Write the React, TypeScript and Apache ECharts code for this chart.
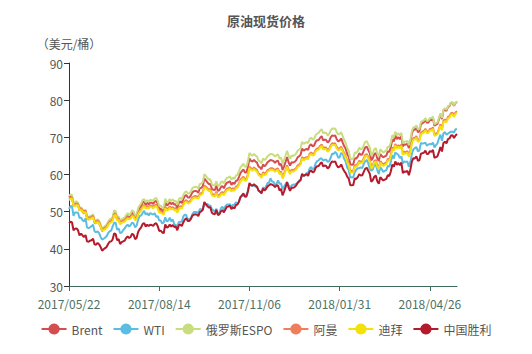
import React, { useEffect, useRef } from "react";
import * as echarts from "echarts";

const title = "原油现货价格";
const yName = "（美元/桶）";
const seriesNames = ["Brent", "WTI", "俄罗斯ESPO", "阿曼", "迪拜", "中国胜利"];
const colors = ["#d44e4f", "#5cbde2", "#c9dd80", "#ef7e5c", "#f3e10a", "#b51a2c"];
const yTicks = [30, 40, 50, 60, 70, 80, 90];
const holidays = ["2017/12/25", "2018/01/01", "2018/03/30"];

function pad(n: number) { return n < 10 ? "0" + n : "" + n; }
function tradingDates(start: string, end: string): string[] {
  const out: string[] = [];
  const d = new Date(start + "T00:00:00Z");
  const e = new Date(end + "T00:00:00Z");
  while (d <= e) {
    const wd = d.getUTCDay();
    const s = d.getUTCFullYear() + "/" + pad(d.getUTCMonth() + 1) + "/" + pad(d.getUTCDate());
    if (wd !== 0 && wd !== 6 && holidays.indexOf(s) < 0) out.push(s);
    d.setUTCDate(d.getUTCDate() + 1);
  }
  return out;
}
const dates = tradingDates("2017-05-22", "2018-05-22");

const brent = [
  53.9, 54.2, 54.0, 51.5, 52.2, 52.3, 51.8, 50.3,
  50.6, 50.0, 49.5, 50.1, 48.1, 47.9, 48.2, 48.3, 48.7, 47.0, 46.9, 47.4, 46.9, 46.0, 44.8, 45.2, 45.5, 45.8, 46.7, 47.3, 47.4, 47.9,
  49.7, 49.6, 47.8, 48.1, 46.7, 47.3, 47.5, 47.7, 48.4, 48.9, 48.4, 48.8, 49.7, 49.3, 48.1, 48.6, 50.2, 51.0, 51.5, 52.5, 52.7,
  51.8, 52.4, 52.0, 52.4, 52.4, 52.1, 52.7, 52.9, 52.1, 50.7, 50.8, 50.3, 50.0, 52.7, 51.7, 51.9, 52.6, 52.0, 52.4, 51.9, 52.0, 50.9, 52.4,
  52.8, 52.3, 53.4, 54.2, 54.5, 53.8, 53.8, 54.3, 55.2, 55.5, 55.6, 55.5, 55.1, 56.3, 56.4, 56.9, 59.0, 58.4, 57.9, 57.4, 57.5,
  56.1, 55.9, 55.8, 57.0, 55.6, 55.8, 56.6, 56.9, 56.3, 57.2, 57.8, 57.9, 58.2, 57.2, 57.8, 57.4, 58.3, 58.4, 59.3, 60.4, 60.9, 61.4,
  60.5, 60.6, 62.1, 64.3, 63.7, 63.5, 63.9, 63.5, 63.2, 62.2, 61.9, 61.4, 62.7, 62.2, 62.6, 63.3, 63.6, 63.9, 63.8, 63.6, 63.1, 63.6,
  63.7, 62.5, 62.9, 61.2, 62.2, 63.4, 64.7, 63.3, 62.4, 63.3, 63.2, 63.4, 63.8, 64.6, 64.9, 65.3, 67.0, 66.4, 66.7, 66.9,
  66.6, 67.8, 68.1, 67.6, 67.8, 68.8, 69.2, 69.3, 69.9, 70.3, 69.2, 69.4, 69.3, 68.6, 69.0, 70.0, 70.5, 70.4, 70.5, 69.5, 68.9, 69.1,
  69.7, 68.6, 67.6, 66.9, 65.5, 64.8, 62.8, 62.6, 62.7, 64.4, 64.3, 64.8, 65.7, 65.3, 65.4, 66.4, 67.3, 67.5, 66.6, 65.8,
  63.8, 64.4, 65.5, 65.8, 64.3, 63.6, 65.5, 65.0, 64.6, 64.9, 65.1, 66.2, 66.1, 67.4, 69.5, 68.9, 70.5, 69.5, 70.1, 69.5, 70.3,
  67.6, 68.1, 68.0, 68.3, 67.1, 68.7, 71.0, 72.1, 72.0, 72.6, 71.4, 71.6, 73.5, 73.8, 74.1, 74.7, 73.9, 74.0, 74.7, 74.6, 75.2,
  73.1, 73.4, 73.6, 74.9, 76.2, 74.9, 77.2, 77.5, 77.1, 78.2, 78.4, 79.3, 79.3, 78.5, 79.2, 79.6,
];

const wti = [
  50.7, 51.5, 51.4, 48.9, 49.8, 49.8, 49.7, 48.3,
  48.4, 47.7, 47.4, 48.2, 45.7, 45.6, 45.8, 46.1, 46.5, 44.7, 44.5, 44.7, 44.2, 43.2, 42.5, 42.7, 43.0, 43.4, 44.2, 44.7, 44.9, 46.0,
  47.0, 47.0, 45.1, 45.5, 44.2, 44.4, 45.0, 45.5, 46.1, 46.5, 46.0, 46.4, 47.1, 46.8, 45.8, 46.3, 47.9, 48.8, 49.0, 49.7, 50.2,
  49.2, 49.6, 49.0, 49.6, 49.4, 49.2, 49.6, 48.6, 48.8, 47.6, 47.6, 46.8, 47.1, 48.5, 47.4, 47.6, 48.4, 47.4, 47.9, 46.6, 46.4, 46.0, 47.2,
  47.3, 47.3, 48.7, 49.2, 49.1, 47.5, 48.1, 48.2, 49.3, 49.9, 49.9, 49.9, 49.5, 50.7, 50.6, 50.7, 52.2, 51.9, 52.1, 51.6, 51.7,
  50.6, 50.4, 50.0, 50.8, 49.3, 49.6, 50.9, 51.3, 50.6, 51.5, 51.9, 51.9, 52.0, 51.3, 51.8, 51.9, 52.5, 52.2, 52.6, 53.9, 54.2, 54.4,
  54.3, 54.5, 55.6, 57.4, 57.2, 56.8, 57.2, 56.7, 56.8, 55.7, 55.3, 55.1, 56.6, 56.1, 56.8, 57.7, 57.8, 59.0, 58.1, 58.0, 57.3, 57.4,
  58.4, 57.5, 57.6, 56.0, 56.7, 57.4, 58.0, 57.1, 56.6, 57.0, 57.3, 57.2, 57.5, 57.6, 58.4, 58.5, 60.0, 59.6, 59.8, 60.4,
  60.4, 61.6, 62.0, 61.4, 61.7, 63.0, 63.6, 63.8, 64.3, 64.3, 63.7, 64.0, 64.0, 63.4, 63.6, 64.5, 65.6, 65.5, 66.1, 65.6, 64.5, 64.7,
  65.8, 65.5, 64.2, 63.4, 61.8, 61.2, 59.2, 59.3, 59.2, 60.6, 61.3, 61.7, 61.7, 61.9, 61.7, 62.8, 63.6, 63.9, 63.0, 61.6,
  61.0, 61.3, 62.6, 62.6, 61.2, 60.1, 62.0, 61.4, 60.7, 61.0, 61.2, 62.3, 62.1, 63.4, 65.2, 64.3, 65.9, 65.6, 65.3, 64.4, 64.9,
  63.0, 63.5, 63.4, 63.5, 62.1, 63.4, 65.5, 66.8, 67.1, 67.4, 66.2, 66.5, 68.5, 68.3, 68.4, 68.6, 67.7, 68.1, 68.2, 68.1, 68.6,
  67.3, 67.9, 68.4, 69.7, 70.7, 69.1, 71.1, 71.4, 70.7, 71.0, 71.3, 71.5, 71.5, 71.3, 72.2, 72.2,
];

const espo = [
  54.3, 54.6, 54.5, 52.1, 52.6, 52.8, 52.3, 50.9,
  51.2, 50.6, 50.1, 50.6, 48.7, 48.5, 48.8, 48.9, 49.3, 47.6, 47.5, 48.0, 47.5, 46.6, 45.4, 45.8, 46.1, 46.5, 47.3, 47.9, 48.1, 48.5,
  50.3, 50.2, 48.5, 48.7, 47.4, 47.9, 48.2, 48.4, 49.1, 49.6, 49.1, 49.5, 50.4, 50.0, 48.8, 49.3, 50.9, 51.7, 52.2, 53.2, 53.4,
  52.5, 53.1, 52.7, 53.2, 53.1, 52.9, 53.5, 53.7, 52.9, 51.5, 51.6, 51.1, 50.9, 53.5, 52.5, 52.7, 53.4, 52.9, 53.3, 52.8, 52.9, 51.8, 53.3,
  53.8, 53.3, 54.4, 55.2, 55.5, 54.9, 54.9, 55.4, 56.3, 56.6, 56.7, 56.6, 56.2, 57.4, 57.6, 58.0, 60.1, 59.6, 59.1, 58.6, 58.7,
  57.3, 57.1, 57.0, 58.2, 56.9, 57.1, 57.9, 58.2, 57.6, 58.5, 59.1, 59.2, 59.5, 58.6, 59.2, 58.8, 59.7, 59.9, 60.8, 61.9, 62.4, 62.9,
  62.1, 62.2, 63.6, 65.8, 65.3, 65.1, 65.5, 65.1, 64.8, 63.8, 63.5, 63.0, 64.3, 63.9, 64.2, 64.9, 65.2, 65.5, 65.5, 65.3, 64.8, 65.2,
  65.4, 64.2, 64.6, 62.9, 63.9, 65.1, 66.4, 65.1, 64.2, 65.1, 65.0, 65.2, 65.6, 66.4, 66.7, 67.1, 68.8, 68.2, 68.5, 68.7,
  68.4, 69.6, 69.9, 69.4, 69.6, 70.6, 71.0, 71.2, 71.8, 72.2, 71.1, 71.3, 71.2, 70.5, 70.9, 71.9, 72.4, 72.3, 72.4, 71.4, 70.8, 70.9,
  71.4, 70.3, 69.3, 68.5, 67.1, 66.4, 64.3, 64.1, 64.2, 65.9, 65.8, 66.3, 67.2, 66.8, 66.9, 67.9, 68.8, 69.0, 68.1, 67.3,
  65.1, 65.7, 66.8, 67.1, 65.6, 64.9, 66.8, 66.3, 65.9, 66.2, 66.4, 67.5, 67.4, 68.6, 70.6, 70.0, 71.5, 70.6, 71.1, 70.5, 71.2,
  68.4, 68.9, 68.8, 69.1, 67.9, 69.4, 71.7, 72.7, 72.7, 73.2, 72.1, 72.3, 74.1, 74.4, 74.6, 75.2, 74.4, 74.5, 75.2, 75.1, 75.6,
  73.5, 73.8, 74.0, 75.2, 76.5, 75.2, 77.5, 77.8, 77.4, 78.4, 78.6, 79.4, 79.4, 78.6, 79.3, 79.7,
];

const oman = [
  53.5, 53.8, 53.8, 51.9, 51.9, 52.2, 52.1, 50.8,
  50.9, 50.4, 50.0, 50.3, 48.6, 48.3, 48.5, 48.6, 48.9, 47.4, 47.3, 47.6, 47.2, 46.2, 45.3, 45.4, 45.7, 46.0, 46.7, 47.3, 47.5, 47.9,
  49.3, 49.4, 48.0, 48.2, 47.0, 47.4, 47.6, 47.7, 48.2, 48.6, 48.2, 48.5, 49.2, 48.9, 48.0, 48.4, 49.7, 50.3, 50.7, 51.5, 51.8,
  51.2, 51.5, 51.3, 51.7, 51.6, 51.3, 51.7, 51.9, 51.2, 50.1, 50.2, 49.8, 49.6, 51.3, 50.7, 50.9, 51.4, 51.0, 51.2, 50.8, 50.9, 50.1, 51.1,
  51.5, 51.2, 52.1, 52.8, 53.1, 52.6, 52.7, 53.1, 53.8, 54.1, 54.2, 54.1, 53.9, 54.8, 55.0, 55.3, 57.0, 56.7, 56.3, 55.9, 56.1,
  54.8, 54.6, 54.5, 55.4, 54.3, 54.4, 55.0, 55.3, 54.9, 55.6, 56.2, 56.3, 56.5, 55.8, 56.3, 56.0, 56.7, 56.9, 57.6, 58.6, 59.0, 59.4,
  58.7, 58.8, 60.1, 62.1, 61.7, 61.4, 61.9, 61.5, 61.2, 60.3, 60.0, 59.5, 60.6, 60.2, 60.5, 61.2, 61.4, 61.7, 61.7, 61.5, 61.1, 61.5,
  61.6, 60.5, 60.8, 59.3, 60.2, 61.3, 62.5, 61.3, 60.5, 61.3, 61.2, 61.4, 61.7, 62.4, 62.7, 63.1, 64.7, 64.2, 64.5, 64.7,
  64.5, 65.6, 65.9, 65.5, 65.7, 66.6, 67.0, 67.1, 67.7, 68.1, 67.1, 67.3, 67.2, 66.5, 66.9, 67.8, 68.4, 68.3, 68.4, 67.4, 66.9, 67.0,
  67.5, 66.6, 65.7, 64.9, 63.7, 63.0, 61.1, 60.9, 61.0, 62.5, 62.5, 62.9, 63.7, 63.4, 63.5, 64.4, 65.3, 65.5, 64.7, 63.9,
  62.0, 62.5, 63.6, 63.9, 62.5, 61.8, 63.6, 63.1, 62.7, 63.0, 63.2, 64.2, 64.1, 65.3, 67.3, 66.8, 68.2, 67.3, 67.9, 67.4, 68.1,
  65.7, 66.1, 66.0, 66.3, 65.2, 66.6, 68.8, 69.8, 69.8, 70.3, 69.2, 69.4, 71.2, 71.5, 71.7, 72.3, 71.5, 71.6, 72.3, 72.2, 72.7,
  70.8, 71.0, 71.2, 72.3, 73.5, 72.3, 74.5, 74.8, 74.4, 75.5, 75.7, 76.5, 76.6, 75.9, 76.7, 77.0,
];

const dubai = [
  53.1, 53.4, 53.5, 51.6, 51.5, 51.8, 51.7, 50.4,
  50.5, 50.1, 49.6, 49.9, 48.3, 47.9, 48.1, 48.2, 48.5, 47.1, 46.9, 47.2, 46.8, 45.9, 45.0, 45.0, 45.3, 45.6, 46.3, 46.9, 47.1, 47.5,
  48.9, 49.1, 47.6, 47.8, 46.7, 47.0, 47.2, 47.3, 47.8, 48.2, 47.9, 48.1, 48.8, 48.6, 47.7, 48.0, 49.3, 49.9, 50.3, 51.1, 51.5,
  50.8, 51.1, 50.9, 51.3, 51.2, 50.9, 51.3, 51.5, 50.8, 49.7, 49.8, 49.4, 49.2, 50.9, 50.3, 50.5, 51.0, 50.6, 50.8, 50.4, 50.5, 49.7, 50.7,
  51.1, 50.8, 51.7, 52.4, 52.7, 52.2, 52.3, 52.7, 53.4, 53.7, 53.8, 53.7, 53.5, 54.4, 54.6, 54.9, 56.6, 56.3, 55.9, 55.5, 55.7,
  54.4, 54.2, 54.1, 55.0, 53.9, 54.0, 54.6, 54.9, 54.5, 55.2, 55.8, 55.9, 56.1, 55.4, 55.9, 55.6, 56.3, 56.5, 57.2, 58.2, 58.6, 59.0,
  58.3, 58.4, 59.7, 61.7, 61.3, 61.0, 61.5, 61.1, 60.8, 59.9, 59.6, 59.1, 60.2, 59.8, 60.1, 60.8, 61.0, 61.3, 61.3, 61.1, 60.7, 61.1,
  61.2, 60.1, 60.4, 58.9, 59.8, 60.9, 62.1, 60.9, 60.1, 60.9, 60.8, 61.0, 61.3, 62.0, 62.3, 62.7, 64.3, 63.8, 64.1, 64.3,
  64.1, 65.2, 65.5, 65.1, 65.3, 66.2, 66.6, 66.7, 67.3, 67.7, 66.7, 66.9, 66.8, 66.1, 66.5, 67.4, 68.0, 67.9, 68.0, 67.0, 66.5, 66.6,
  67.1, 66.2, 65.3, 64.5, 63.3, 62.6, 60.7, 60.5, 60.6, 62.1, 62.1, 62.5, 63.3, 63.0, 63.1, 64.0, 64.9, 65.1, 64.3, 63.5,
  61.6, 62.1, 63.2, 63.5, 62.1, 61.4, 63.2, 62.7, 62.3, 62.6, 62.8, 63.8, 63.7, 64.9, 66.9, 66.4, 67.8, 66.9, 67.5, 67.0, 67.7,
  65.3, 65.7, 65.6, 65.9, 64.8, 66.2, 68.4, 69.4, 69.4, 69.9, 68.8, 69.0, 70.8, 71.1, 71.3, 71.9, 71.1, 71.2, 71.9, 71.8, 72.3,
  70.4, 70.6, 70.8, 71.9, 73.1, 71.9, 74.1, 74.4, 74.0, 75.1, 75.3, 76.1, 76.2, 75.5, 76.3, 76.6,
];

const shengli = [
  46.9, 47.3, 47.1, 45.0, 45.4, 45.5, 45.0, 43.6,
  44.1, 43.6, 43.2, 43.7, 42.0, 41.9, 42.2, 42.3, 42.7, 41.2, 41.1, 41.6, 41.2, 40.5, 39.5, 39.9, 40.2, 40.5, 41.3, 41.9, 42.0, 42.5,
  44.1, 44.0, 42.3, 42.6, 41.3, 41.8, 42.0, 42.2, 42.9, 43.3, 42.9, 43.2, 44.1, 43.7, 42.6, 43.0, 44.6, 45.3, 45.8, 46.7, 46.9,
  46.0, 46.5, 46.1, 46.5, 46.4, 46.2, 46.7, 46.9, 46.1, 44.8, 44.9, 44.4, 44.2, 46.6, 45.7, 45.9, 46.5, 46.0, 46.4, 45.9, 46.0, 45.0, 46.3,
  46.6, 46.1, 47.1, 47.9, 48.2, 47.5, 47.5, 48.0, 48.9, 49.2, 49.3, 49.2, 48.8, 49.9, 50.1, 50.5, 52.6, 52.0, 51.5, 51.1, 51.2,
  49.7, 49.4, 49.3, 50.5, 49.1, 49.3, 50.1, 50.4, 49.8, 50.6, 51.3, 51.4, 51.6, 50.7, 51.2, 50.9, 51.8, 51.9, 52.7, 53.9, 54.4, 54.9,
  54.0, 54.1, 55.5, 57.7, 57.1, 57.0, 57.4, 57.0, 56.7, 55.7, 55.4, 54.9, 56.2, 55.7, 56.1, 56.8, 57.1, 57.4, 57.3, 57.1, 56.6, 57.1,
  57.0, 55.7, 56.1, 54.4, 55.4, 56.6, 57.9, 56.5, 55.6, 56.5, 56.4, 56.6, 57.0, 57.8, 58.1, 58.5, 60.2, 59.6, 59.9, 60.1,
  59.6, 60.8, 61.1, 60.6, 60.8, 61.8, 62.2, 62.3, 62.9, 63.3, 62.2, 62.4, 62.3, 61.6, 62.0, 63.0, 63.5, 63.4, 63.5, 62.5, 61.9, 62.1,
  62.7, 61.7, 60.9, 60.4, 59.4, 58.9, 57.2, 57.1, 57.2, 58.9, 58.8, 59.3, 60.1, 59.7, 59.8, 60.7, 61.6, 61.8, 61.0, 60.2,
  58.0, 58.5, 59.4, 59.7, 58.2, 57.5, 59.3, 58.8, 58.4, 58.6, 58.8, 59.8, 59.6, 60.8, 62.7, 62.1, 63.5, 62.6, 63.1, 62.5, 63.2,
  60.4, 60.8, 60.7, 61.0, 59.8, 61.3, 63.5, 64.4, 64.3, 64.9, 63.7, 63.8, 65.6, 65.7, 65.9, 66.4, 65.5, 65.6, 66.3, 66.1, 66.6,
  64.5, 64.7, 64.9, 66.1, 67.4, 66.2, 68.5, 68.8, 68.4, 69.5, 69.7, 70.5, 70.6, 69.8, 70.5, 70.9,
];

const allSeries = [brent, wti, espo, oman, dubai, shengli];
const FONT = "'Noto Sans CJK SC', 'Noto Sans', sans-serif";

export default function App() {
  const ref = useRef<HTMLDivElement>(null);
  useEffect(() => {
    if (!ref.current) return;
    const chart = echarts.init(ref.current, undefined, { renderer: "svg" });
    chart.setOption({
      animation: false,
      color: colors,
      textStyle: { fontFamily: FONT },
      title: {
        text: title,
        left: "center",
        top: 9,
        textStyle: { fontSize: 13, fontWeight: "bold", color: "#555", fontFamily: FONT },
      },
      legend: {
        bottom: 14,
        left: "center",
        itemGap: 10,
        itemWidth: 25,
        itemHeight: 14,
        data: seriesNames,
        textStyle: { fontSize: 12, color: "#555", fontFamily: FONT },
      },
      grid: { left: 69, right: 75, top: 63, bottom: 68, containLabel: false },
      xAxis: {
        type: "category",
        data: dates,
        boundaryGap: false,
        axisLine: { lineStyle: { color: "#3f6b5d", width: 1 } },
        axisTick: { interval: 59, lineStyle: { color: "#3f6b5d" }, length: 5 },
        axisLabel: {
          interval: 59, color: "#4c7266", fontSize: 12, margin: 11, lineHeight: 12, fontFamily: FONT,
        },
        splitLine: { show: false },
      },
      yAxis: {
        type: "value",
        min: yTicks[0],
        max: yTicks[yTicks.length - 1],
        interval: 10,
        name: yName,
        nameLocation: "end",
        nameGap: 14,
        nameTextStyle: { color: "#555", fontSize: 12, fontFamily: FONT },
        axisLine: { show: true, lineStyle: { color: "#333" } },
        axisTick: { show: true, lineStyle: { color: "#333" }, length: 5 },
        axisLabel: { color: "#555", fontSize: 12, margin: 6, lineHeight: 12, fontFamily: FONT },
        splitLine: { show: false },
      },
      series: seriesNames.map((name, i) => ({
        name,
        type: "line",
        data: allSeries[i],
        symbol: "circle",
        symbolSize: 10,
        showSymbol: false,
        lineStyle: { width: 2, color: colors[i] },
        itemStyle: { color: colors[i] },
      })),
    });
    return () => chart.dispose();
  }, []);
  return (
    <div
      ref={ref}
      style={{ position: "fixed", left: 0, top: 0, width: 532, height: 354, background: "#fff" }}
    />
  );
}
